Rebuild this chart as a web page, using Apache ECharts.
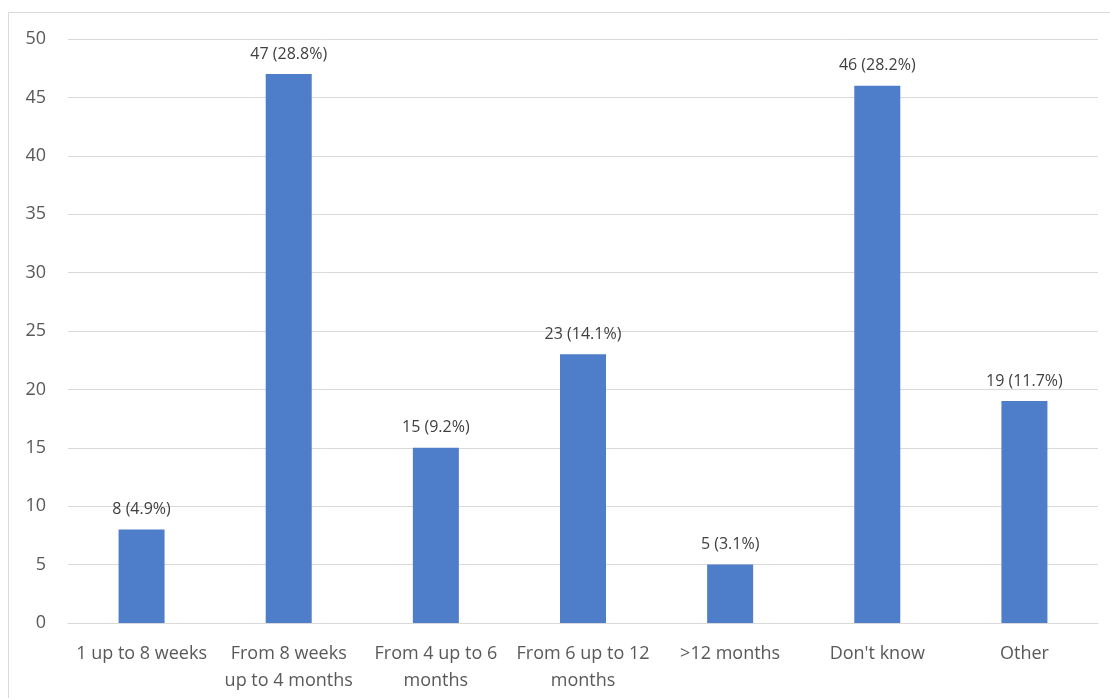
<!DOCTYPE html>
<html>
<head>
<meta charset="utf-8">
<script src="https://cdn.jsdelivr.net/npm/echarts@6/dist/echarts.min.js"></script>
<style>
html,body{margin:0;padding:0;background:#fff;}
#main{width:1110px;height:698px;}
</style>
</head>
<body>
<div id="main"></div>
<script>
const categories = ['1 up to 8 weeks', 'From 8 weeks\nup to 4 months', 'From 4 up to 6\nmonths', 'From 6 up to 12\nmonths', '>12 months', "Don't know", 'Other'];
const counts = [8, 47, 15, 23, 5, 46, 19];
const percents = ['4.9%', '28.8%', '9.2%', '14.1%', '3.1%', '28.2%', '11.7%'];

const chart = echarts.init(document.getElementById('main'));
const font = 'Open Sans';
chart.setOption({
  animation: false,
  graphic: [{
    type: 'rect',
    shape: { x: 8.5, y: 12.5, width: 1110, height: 700 },
    style: { fill: 'none', stroke: '#d9d9d9', lineWidth: 1 },
    silent: true
  }],
  grid: { left: 68, right: 12, top: 39, bottom: 75, containLabel: false },
  xAxis: {
    type: 'category',
    data: categories,
    axisLine: { show: true, lineStyle: { color: '#d9d9d9', width: 1 } },
    axisTick: { show: false },
    axisLabel: {
      color: '#595959', fontFamily: font, fontSize: 18, margin: 17,
      lineHeight: 27, interval: 0
    }
  },
  yAxis: {
    type: 'value',
    min: 0, max: 50, interval: 5,
    axisLine: { show: false },
    axisTick: { show: false },
    splitLine: { lineStyle: { color: '#d9d9d9', width: 1 } },
    axisLabel: { color: '#595959', fontFamily: font, fontSize: 18, margin: 22 }
  },
  series: [{
    type: 'bar',
    data: counts,
    barWidth: 46,
    itemStyle: { color: '#4e7dc9' },
    label: {
      show: true, position: 'top', distance: 12,
      color: '#404040', fontFamily: font, fontSize: 16,
      formatter: p => p.value + ' (' + percents[p.dataIndex] + ')'
    }
  }]
});
</script>
</body>
</html>
